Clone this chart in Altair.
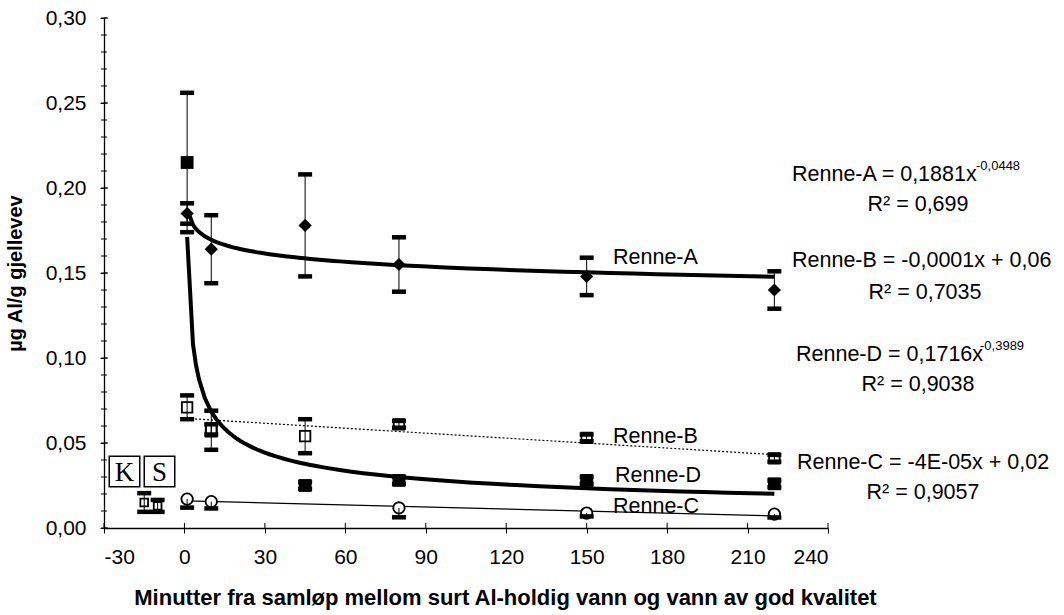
import altair as alt
import pandas as pd

FONT = "Liberation Sans"

# Minutes after mixing (first sample taken at 1 min)
a_min = [1, 10, 45, 80, 150, 220]
a_al = [0.185, 0.164, 0.178, 0.155, 0.148, 0.140]
a_lo = [0.006, 0.020, 0.030, 0.016, 0.011, 0.011]
a_hi = [0.006, 0.020, 0.030, 0.016, 0.011, 0.011]

b_min = [1, 10, 45, 80, 150, 220]
b_al = [0.071, 0.058, 0.054, 0.061, 0.053, 0.041]
b_lo = [0.007, 0.003, 0.010, 0.002, 0.002, 0.002]
b_hi = [0.007, 0.003, 0.010, 0.002, 0.002, 0.002]

c_min = [1, 10, 80, 150, 220]
c_al = [0.017, 0.0155, 0.0118, 0.0088, 0.0082]
c_lo = [0.005, 0.004, 0.0055, 0.002, 0.002]
c_hi = [0.0, 0.0, 0.0, 0.0, 0.0]

d_min = [1, 10, 45, 80, 150, 220]
d_al = [0.215, 0.057, 0.025, 0.028, 0.028, 0.026]
d_lo = [0.041, 0.011, 0.002, 0.002, 0.002, 0.002]
d_hi = [0.041, 0.012, 0.002, 0.002, 0.002, 0.002]

# Control (K) and acid (S) reference fish
ref_min = [-15, -10]
ref_al = [0.015, 0.013]
ref_lo = [0.0055, 0.0035]
ref_hi = [0.0055, 0.0035]

x_ticks = [-30, 0, 30, 60, 90, 120, 150, 180, 210, 240]
y_ticks = [0.0, 0.05, 0.10, 0.15, 0.20, 0.25, 0.30]
y_minor = [i / 100 for i in range(0, 31)]


def frame(mins, vals, lo, hi):
    return pd.DataFrame({
        "min": mins,
        "al": vals,
        "lo": [v - d for v, d in zip(vals, lo)],
        "hi": [v + d for v, d in zip(vals, hi)],
    })


dfA = frame(a_min, a_al, a_lo, a_hi)
dfB = frame(b_min, b_al, b_lo, b_hi)
dfC = frame(c_min, c_al, c_lo, c_hi)
dfD = frame(d_min, d_al, d_lo, d_hi)
dfR = frame(ref_min, ref_al, ref_lo, ref_hi)

xs = alt.Scale(domain=[-30, 240], nice=False, zero=False)
ys = alt.Scale(domain=[0, 0.30], nice=False)

X = alt.X("min:Q", scale=xs, axis=alt.Axis(
    values=x_ticks, labelExpr="'' + datum.value", grid=False,
    title="Minutter fra samløp mellom surt Al-holdig vann og vann av god kvalitet",
    titleFontWeight="bold", titleFontSize=22, titlePadding=20,
    titleX=401, titleAlign="center", titleAnchor="start",
    labelFontSize=21, labelPadding=13, tickSize=5, labelOverlap=False,
))
Y = alt.Y("al:Q", scale=ys, axis=alt.Axis(
    values=y_ticks,
    labelExpr="replace(format(datum.value, '.2f'), '.', ',')",
    grid=False, title="µg Al/g gjellevev", titleFontWeight="bold",
    titleFontSize=20, titlePadding=20, labelFontSize=21, labelPadding=14,
    tickSize=4, labelOverlap=False,
))
Xn = alt.X("min:Q", scale=xs)
Yn = alt.Y("al:Q", scale=ys)
Ylo = alt.Y("lo:Q", scale=ys)
Yhi = alt.Y("hi:Q", scale=ys)


def trend(df, method, width, dash=None):
    kw = dict(color="black", strokeWidth=width)
    if dash:
        kw["strokeDash"] = dash
    return (alt.Chart(df).transform_regression("min", "al", method=method)
            .mark_line(**kw).encode(x=Xn, y=Yn))


def bars(df):
    stem = alt.Chart(df).mark_rule(color="black", strokeWidth=1).encode(
        x=Xn, y=Ylo, y2="hi:Q")
    cap_lo = alt.Chart(df).transform_filter("datum.lo < datum.al").mark_tick(
        orient="horizontal", color="black", size=14, thickness=4.5, opacity=1
    ).encode(x=Xn, y=Ylo)
    cap_hi = alt.Chart(df).transform_filter("datum.hi > datum.al").mark_tick(
        orient="horizontal", color="black", size=14, thickness=4.5, opacity=1
    ).encode(x=Xn, y=Yhi)
    return [stem, cap_lo, cap_hi]


def points(df, shape, size, filled):
    if filled:
        m = alt.Chart(df).mark_point(shape=shape, size=size, filled=True,
                                     color="black", opacity=1)
    else:
        m = alt.Chart(df).mark_point(shape=shape, size=size, filled=True,
                                     fill="white", stroke="black",
                                     strokeWidth=1.8, opacity=1)
    return m.encode(x=Xn, y=Yn)


one = alt.Data(values=[{}])


def note(text, px, py, size=21.5, align="left", font=FONT, weight="normal"):
    # px/py are page pixel positions; the plot origin sits at (104, 18)
    return alt.Chart(one).mark_text(
        text=text, x=px - 104, y=py - 18, fontSize=size, align=align,
        baseline="middle", font=font, fontWeight=weight, color="black")


def box(px, py):
    return alt.Chart(one).mark_point(
        shape="square", size=930, x=px - 104, y=py - 18, filled=False,
        stroke="black", strokeWidth=1.5, opacity=1)


# The first layer carries the axes
axes = alt.Chart(dfA).mark_point(opacity=0).encode(x=X, y=Y)

# Minor y ticks crossing the axis line, and inward halves of the x ticks
minor_y = alt.Chart(pd.DataFrame({"al": y_minor})).mark_rule(
    color="black", strokeWidth=1).encode(
    y=Yn, x=alt.value(-3), x2=alt.value(3))
major_y_in = alt.Chart(pd.DataFrame({"al": y_ticks})).mark_rule(
    color="black", strokeWidth=1).encode(
    y=Yn, x=alt.value(0), x2=alt.value(4))
inner_x = alt.Chart(pd.DataFrame({"min": x_ticks})).mark_rule(
    color="black", strokeWidth=1).encode(
    x=Xn, y=alt.value(510), y2=alt.value(505))

layers = [axes, minor_y, major_y_in, inner_x,
          trend(dfB, "linear", 1.2, [2, 2]),
          trend(dfC, "linear", 1.2),
          trend(dfA, "pow", 4),
          trend(dfD, "pow", 4),
          points(dfA, "diamond", 175, True),
          points(dfD, "square", 165, True),
          points(dfB, "square", 110, False),
          points(dfC, "circle", 130, False),
          points(dfR, "square", 60, False)]
for d in (dfA, dfB, dfC, dfD, dfR):
    layers += bars(d)

layers += [
    box(124.5, 471.5), box(159.5, 471.5),
    note("K", 124.5, 473, size=27, align="center", font="Liberation Serif"),
    note("S", 159.5, 473, size=27, align="center", font="Liberation Serif"),
    note("Renne-A", 613, 258),
    note("Renne-B", 613, 437),
    note("Renne-D", 615, 476),
    note("Renne-C", 613, 507),
    note("Renne-A = 0,1881x", 792, 175),
    note("-0,0448", 976, 166, size=13),
    note("R² = 0,699", 918, 205, align="center"),
    note("Renne-B = -0,0001x + 0,06", 792, 261),
    note("R² = 0,7035", 925, 293, align="center"),
    note("Renne-D = 0,1716x", 796, 355),
    note("-0,3989", 980, 346, size=13),
    note("R² = 0,9038", 918, 385, align="center"),
    note("Renne-C = -4E-05x + 0,02", 797, 463),
    note("R² = 0,9057", 923, 493, align="center"),
]

chart = alt.layer(*layers).properties(
    width=724, height=510,
    autosize=alt.AutoSizeParams(type="none"),
    padding={"left": 104, "top": 18, "right": 236, "bottom": 87},
    background="white",
).configure_view(stroke=None).configure_axis(
    domainColor="black", domainWidth=1.3, tickColor="black", tickWidth=1,
    labelColor="black", titleColor="black", labelFont=FONT, titleFont=FONT,
)

chart.save("out.html", embed_options={"renderer": "svg", "actions": False})
